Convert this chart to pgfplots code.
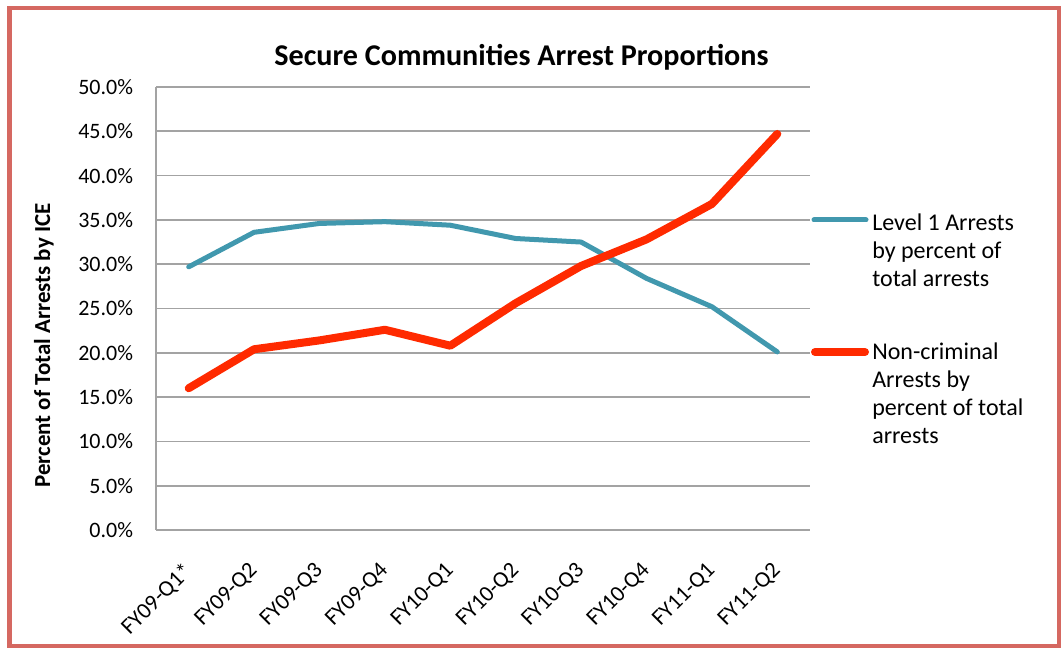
\documentclass[border=0pt]{standalone}
\usepackage{pgfplots}
\pgfplotsset{compat=1.18}
\usepackage{fontspec}
\setmainfont{Carlito}
\definecolor{lvlblue}{RGB}{65,152,174}
\definecolor{ncred}{RGB}{255,42,0}
\definecolor{framered}{RGB}{213,104,97}
\definecolor{gridgray}{RGB}{163,163,163}

\begin{document}
% 1 unit = 1 px of the reference, y measured from the bottom
\begin{tikzpicture}[x=0.75pt,y=0.75pt]
  \path[use as bounding box] (0,0) rectangle (1063,649);
  \begin{axis}[
    at={(117pt,89.25pt)}, anchor=south west,
    scale only axis,
    width=490.5pt, height=332.25pt,
    xmin=0.5, xmax=10.5,
    ymin=0, ymax=50,
    xtick={1,...,10},
    xticklabels={FY09-Q1*,FY09-Q2,FY09-Q3,FY09-Q4,FY10-Q1,FY10-Q2,FY10-Q3,FY10-Q4,FY11-Q1,FY11-Q2},
    ytick={0,5,...,50},
    yticklabel={\pgfmathprintnumber[fixed,fixed zerofill,precision=1]{\tick}\%},
    /pgf/number format/assume math mode=true,
    axis x line=bottom, axis y line=left,
    axis line style={gridgray, line width=1.25pt, -},
    major tick length=0pt,
    ymajorgrids,
    grid style={gridgray, line width=1.25pt},
    yticklabel style={anchor=east, inner sep=0pt, xshift=-17pt,
      font=\fontsize{16.5}{19}\selectfont},
    xticklabel style={rotate=45, anchor=east, inner sep=0pt,
      font=\fontsize{17}{20}\selectfont},
    xticklabel shift=28pt,
    clip=false,
  ]
    \addplot[lvlblue, line width=3.75pt, line join=round, line cap=round] coordinates {
      (1,29.7) (2,33.6) (3,34.6) (4,34.8) (5,34.4)
      (6,32.9) (7,32.5) (8,28.4) (9,25.2) (10,20.1)
    };
    \addplot[ncred, line width=6pt, line join=round, line cap=round] coordinates {
      (1,16.0) (2,20.4) (3,21.4) (4,22.6) (5,20.8)
      (6,25.6) (7,29.8) (8,32.8) (9,36.8) (10,44.7)
    };
  \end{axis}

  % title and axis label
  \node[anchor=base, font=\bfseries\fontsize{22.6}{26}\selectfont] at (521.5,583) {Secure Communities Arrest Proportions};
  \node[rotate=90, font=\bfseries\fontsize{17.2}{20}\selectfont] at (44,303.5) {Percent of Total Arrests by ICE};

  % legend
  \draw[lvlblue, line width=3.75pt, line cap=round] (814,429) -- (866,429);
  \draw[ncred, line width=6pt, line cap=round] (815,297) -- (865,297);
  \begin{scope}[every node/.style={anchor=base west, inner sep=0pt, font=\fontsize{18}{21}\selectfont}]
    \node at (872,418) {Level 1 Arrests};
    \node at (872,390) {by percent of};
    \node at (872,362) {total arrests};
    \node at (872,289) {Non-criminal};
    \node at (872,261) {Arrests by};
    \node at (872,233) {percent of total};
    \node at (872,205) {arrests};
  \end{scope}

  % outer frame
  \draw[framered, line width=3.4pt] (9.5,641) rectangle (1059,3);
\end{tikzpicture}
\end{document}
